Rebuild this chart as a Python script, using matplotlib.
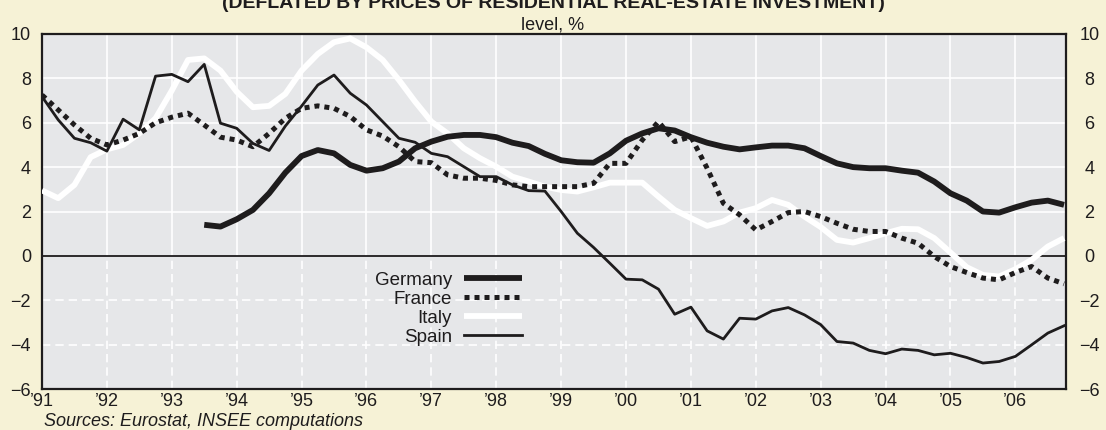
import numpy as np
import pandas as pd
import matplotlib
matplotlib.use("Agg")
import matplotlib.pyplot as plt

plt.rcParams['font.family'] = ['Liberation Sans', 'DejaVu Sans']

# quarterly data, 1991Q1 - 2006Q4
quarters = pd.period_range('1991Q1', '2006Q4', freq='Q')
t_all = np.array([q.year + (q.quarter - 1) / 4 for q in quarters])

spain = [7.18, 6.13, 5.3, 5.1,
         4.72, 6.16, 5.68, 8.1,
         8.18, 7.85, 8.63, 5.98,
         5.75, 5.07, 4.75, 5.85,
         6.75, 7.7, 8.15, 7.33,
         6.8, 6.05, 5.3, 5.12,
         4.62, 4.47, 4.02, 3.57,
         3.57, 3.2, 2.94, 2.92,
         2.0, 1.02, 0.38, -0.33,
         -1.05, -1.08, -1.5, -2.63,
         -2.31, -3.38, -3.75, -2.81,
         -2.85, -2.48, -2.33, -2.66,
         -3.1, -3.86, -3.93, -4.26,
         -4.41, -4.2, -4.26, -4.46,
         -4.39, -4.58, -4.83, -4.76,
         -4.53, -4.01, -3.48, -3.15]

france = [7.25, 6.58, 5.9, 5.3,
          5.0, 5.22, 5.52, 6.0,
          6.25, 6.43, 5.9, 5.35,
          5.22, 4.92, 5.52, 6.2,
          6.65, 6.76, 6.65, 6.28,
          5.68, 5.4, 4.92, 4.25,
          4.2, 3.65, 3.5, 3.5,
          3.4, 3.2, 3.12, 3.12,
          3.12, 3.12, 3.27, 4.17,
          4.17, 5.22, 6.05, 5.15,
          5.37, 3.95, 2.37, 1.85,
          1.17, 1.55, 1.95, 2.0,
          1.77, 1.47, 1.2, 1.1,
          1.1, 0.8, 0.57, -0.03,
          -0.48, -0.75, -1.0, -1.08,
          -0.75, -0.48, -1.0, -1.26]

italy = [2.95, 2.6, 3.2, 4.45,
         4.8, 5.0, 5.52, 6.2,
         7.45, 8.83, 8.9, 8.35,
         7.4, 6.7, 6.76, 7.3,
         8.35, 9.1, 9.63, 9.8,
         9.4, 8.83, 7.93, 6.95,
         6.05, 5.52, 4.85, 4.4,
         4.02, 3.57, 3.35, 3.12,
         2.97, 2.9, 3.09, 3.3,
         3.3, 3.3, 2.67, 2.07,
         1.7, 1.35, 1.55, 1.95,
         2.15, 2.52, 2.3, 1.77,
         1.3, 0.72, 0.6, 0.8,
         1.02, 1.22, 1.2, 0.8,
         0.15, -0.51, -0.86, -0.93,
         -0.6, -0.18, 0.42, 0.8]

# Germany starts in 1993Q3
germany = [1.4, 1.32,
           1.65, 2.07, 2.82, 3.75,
           4.5, 4.77, 4.62, 4.1,
           3.84, 3.95, 4.25, 4.85,
           5.15, 5.37, 5.45, 5.45,
           5.35, 5.1, 4.95, 4.6,
           4.31, 4.22, 4.2, 4.62,
           5.19, 5.52, 5.75, 5.65,
           5.35, 5.1, 4.92, 4.8,
           4.89, 4.97, 4.97, 4.85,
           4.5, 4.17, 4.0, 3.95,
           3.95, 3.84, 3.75, 3.35,
           2.82, 2.49, 2.0, 1.95,
           2.19, 2.4, 2.49, 2.3]
t_ger = t_all[len(t_all) - len(germany):]

years = list(range(1991, 2007))
year_labels = ["\u2019%02d" % (y % 100) for y in years]
yticks = [-6, -4, -2, 0, 2, 4, 6, 8, 10]
ytick_labels = ["\u2212%d" % -v if v < 0 else "%d" % v for v in yticks]

cream = '#f6f2d6'
plotbg = '#e6e7e9'
ink = '#1e1c1d'

fig = plt.figure(figsize=(11.06, 4.30), dpi=100, facecolor=cream)
ax = fig.add_axes([42 / 1106, 1 - 389 / 430, 1024 / 1106, 355 / 430])
ax.set_facecolor(plotbg)

# grid: solid above zero, dashed below
for y in [2, 4, 6, 8]:
    ax.axhline(y, color='white', lw=1.2, zorder=1)
for y in [-2, -4]:
    ax.axhline(y, color='white', lw=1.2, ls=(0, (5, 3)), zorder=1)
ax.vlines(years[1:], 0, 10, color='white', lw=1.2, zorder=1)
ax.vlines(years[1:], -6, 0, color='white', lw=1.2, linestyles=[(0, (5, 3))], zorder=1)
ax.axhline(0, color=ink, lw=1.3, zorder=2)

l_it, = ax.plot(t_all, italy, color='white', lw=4.2, solid_capstyle='butt', zorder=3, label='Italy')
l_ge, = ax.plot(t_ger, germany, color=ink, lw=4.2, solid_capstyle='butt', zorder=4, label='Germany')
l_fr, = ax.plot(t_all, france, color=ink, lw=3.6, ls=(0, (1, 1)), dash_capstyle='butt',
                zorder=5, label='France')
l_sp, = ax.plot(t_all, spain, color=ink, lw=2, zorder=6, label='Spain')

ax.set_xlim(1991, 2006.78)
ax.set_ylim(-6, 10)
ax.set_xticks(years)
ax.set_xticklabels(year_labels)
ax.set_yticks(yticks)
ax.set_yticklabels(ytick_labels)
ax.tick_params(axis='both', length=0, labelsize=13, colors=ink)
ax.tick_params(axis='x', pad=3)
ax.tick_params(axis='y', pad=8)
for s in ax.spines.values():
    s.set_color(ink)
    s.set_linewidth(1.6)

# right-hand labels, centred
ax2 = ax.twinx()
ax2.set_ylim(-6, 10)
ax2.set_yticks(yticks)
ax2.set_yticklabels(ytick_labels, ha='center')
ax2.tick_params(axis='y', length=0, labelsize=13, colors=ink, pad=17)
for s in ax2.spines.values():
    s.set_visible(False)

leg = ax.legend(handles=[l_ge, l_fr, l_it, l_sp], loc='upper right',
                bbox_to_anchor=(0.469, 0.331), frameon=False, markerfirst=False,
                fontsize=13.5, handlelength=3.1, handletextpad=0.65,
                labelspacing=0.1, borderpad=0, borderaxespad=0)
for txt in leg.get_texts():
    txt.set_color(ink)

fig.text(0.5, 1 - 8 / 430, "(DEFLATED BY PRICES OF RESIDENTIAL REAL-ESTATE INVESTMENT)",
         ha='center', va='baseline', fontsize=14, fontweight='bold', color=ink)
fig.text(0.5, 1 - 30 / 430, "level, %", ha='center', va='baseline', fontsize=13, color=ink)
fig.text(44 / 1106, 1 - 413 / 430, "Sources: Eurostat, INSEE computations",
         ha='left', va='top', fontsize=13, style='italic', color=ink)

fig.savefig('out.png', dpi=100, facecolor=cream)
